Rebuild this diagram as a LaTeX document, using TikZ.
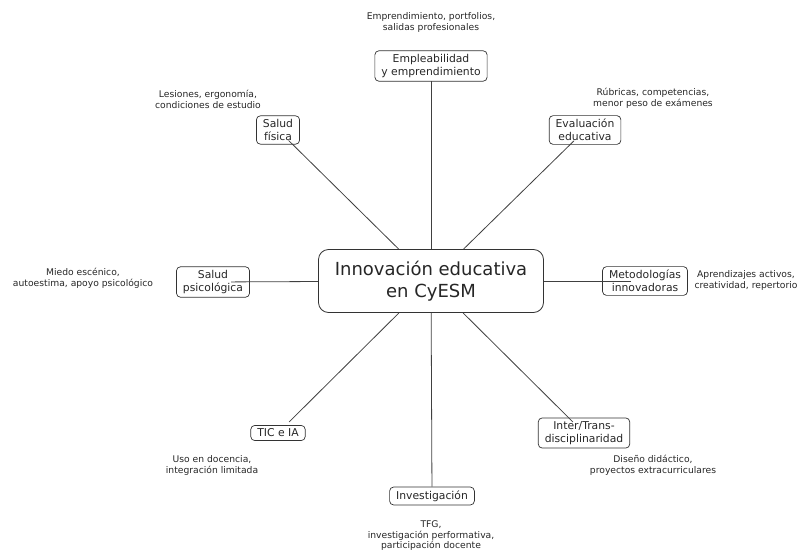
\documentclass[tikz,border=0pt]{standalone}
\usepackage{fontspec}
\setmainfont{DejaVu Sans}
\usepackage{tikz}
\usetikzlibrary{calc}

\begin{document}
\begin{tikzpicture}[x=1pt,y=1pt]
\tikzstyle{every node}+=[text=black!85]
\tikzstyle{hub}=[draw=black!80, line width=0.8pt, fill=white, rounded corners=10pt, minimum width=225pt, minimum height=63pt, align=center, font=\fontsize{18}{21.5}\selectfont]
\tikzstyle{topic}=[draw=black!80, line width=0.7pt, rounded corners=4pt, inner xsep=6.5pt, inner ysep=3.5pt, align=center, font=\fontsize{10.8}{13}\selectfont]
\tikzstyle{remark}=[align=center, inner sep=0pt, font=\fontsize{9.2}{11}\selectfont]
\tikzstyle{spoke}=[draw=black!75, line width=0.8pt]
\useasboundingbox (0,0) rectangle (803,-554);
\node [hub] (hub) at (431,-281) {Innovación educativa\\en CyESM};
\node [topic] (emp) at (431,-66) {Empleabilidad\\y emprendimiento};
\node [topic] (fis) at (278,-130) {Salud\\física};
\node [topic] (eva) at (585,-130) {Evaluación\\educativa};
\node [topic] (psi) at (213,-282) {Salud\\psicológica};
\node [topic] (met) at (645,-281) {Metodologías\\innovadoras};
\node [topic] (tic) at (278,-433) {TIC e IA};
\node [topic] (int) at (584,-433) {Inter/Trans-\\disciplinaridad};
\node [topic] (inv) at (432,-496) {Investigación};
\node [remark] (emp-n) at (431,-22) {Emprendimiento, portfolios,\\salidas profesionales};
\node [remark] (fis-n) at (208,-99) {Lesiones, ergonomía,\\condiciones de estudio};
\node [remark] (eva-n) at (653,-98) {Rúbricas, competencias,\\menor peso de exámenes};
\node [remark] (psi-n) at (83,-278) {Miedo escénico,\\autoestima, apoyo psicológico};
\node [remark] (met-n) at (746,-280) {Aprendizajes activos,\\creatividad, repertorio};
\node [remark] (tic-n) at (212,-465) {Uso en docencia,\\integración limitada};
\node [remark] (int-n) at (653,-465) {Diseño didáctico,\\proyectos extracurriculares};
\node [remark, font=\fontsize{9.2}{10.5}\selectfont] (inv-n) at (431,-536) {TFG,\\investigación performativa,\\participación docente};
\draw [spoke] (hub) -- ($(hub.center)!200pt!(emp.center)$);
\draw [spoke] (hub) -- ($(hub.center)!200pt!(fis.center)$);
\draw [spoke] (hub) -- ($(hub.center)!200pt!(eva.center)$);
\draw [spoke] (hub) -- ($(hub.center)!200pt!(psi.center)$);
\draw [spoke] (hub) -- ($(hub.center)!200pt!(met.center)$);
\draw [spoke] (hub) -- ($(hub.center)!200pt!(tic.center)$);
\draw [spoke] (hub) -- ($(hub.center)!200pt!(int.center)$);
\draw [spoke] (hub) -- (inv);
\end{tikzpicture}
\end{document}
